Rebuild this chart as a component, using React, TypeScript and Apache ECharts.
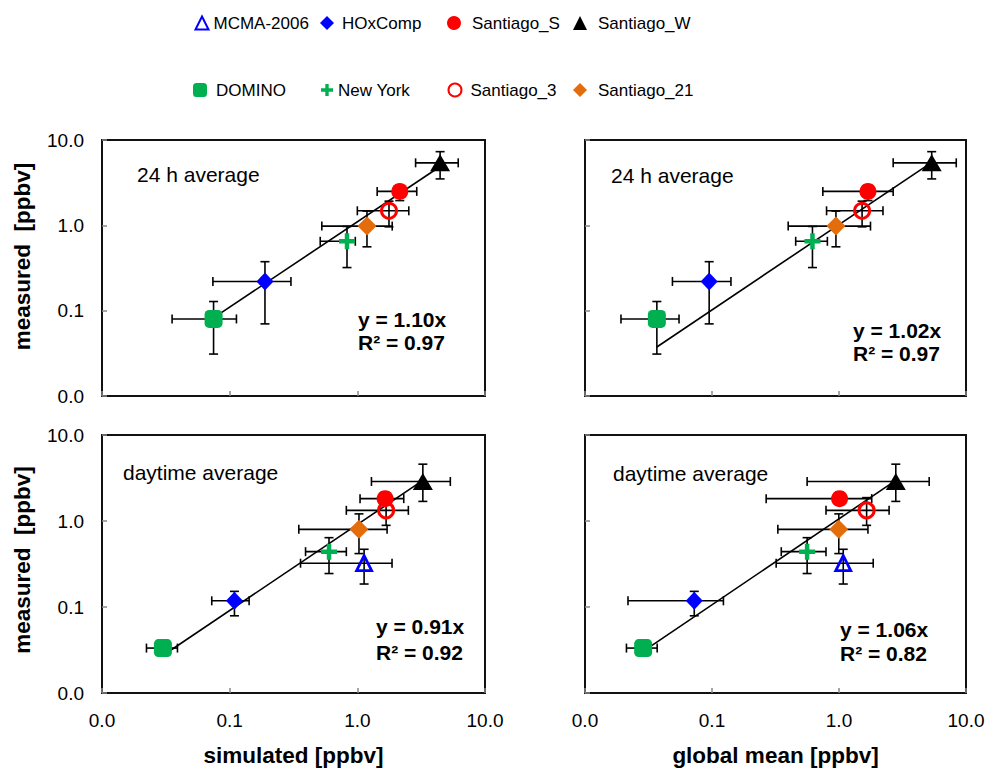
import React, { useEffect, useRef } from "react";
import * as echarts from "echarts";

// Series (legend order)
const seriesNames = ["MCMA-2006", "HOxComp", "Santiago_S", "Santiago_W", "DOMINO", "New York", "Santiago_3", "Santiago_21"];

// 24 h average: measured (y) with error range
const measured24 = [null, 0.22, 2.5, 5.4, 0.08, 0.65, 1.48, 0.98];
const measured24Lo = [null, 0.07, 1.95, 3.5, 0.031, 0.32, 0.96, 0.56];
const measured24Hi = [null, 0.375, 2.94, 7.3, 0.128, 0.97, 1.92, 1.47];
// 24 h average: simulated (x, top-left)
const simulated24 = [null, 0.189, 2.15, 4.45, 0.0748, 0.83, 1.77, 1.19];
const simulated24Lo = [null, 0.0739, 1.43, 2.86, 0.0354, 0.512, 1.0, 0.527];
const simulated24Hi = [null, 0.302, 2.92, 6.17, 0.113, 0.964, 2.53, 1.876];
// 24 h average: global mean (x, top-right)
const global24 = [null, 0.095, 1.69, 5.37, 0.0368, 0.618, 1.52, 0.946];
const global24Lo = [null, 0.0488, 0.746, 2.67, 0.0192, 0.456, 0.798, 0.398];
const global24Hi = [null, 0.141, 2.67, 8.38, 0.055, 0.81, 2.22, 1.77];

// daytime average: measured (y)
const measuredDay = [0.323, 0.118, 1.82, 2.88, 0.0333, 0.44, 1.33, 0.8];
const measuredDayLo = [0.185, 0.079, 1.55, 1.69, 0.031, 0.245, 0.89, 0.418];
const measuredDayHi = [0.469, 0.152, 2.16, 4.58, 0.036, 0.64, 1.87, 1.21];
// daytime average: simulated (x, bottom-left)
const simulatedDay = [1.13, 0.109, 1.65, 3.26, 0.03, 0.6, 1.68, 1.03];
const simulatedDayLo = [0.359, 0.0724, 1.05, 1.29, 0.0223, 0.393, 0.82, 0.348];
const simulatedDayHi = [1.87, 0.142, 2.31, 5.35, 0.039, 0.82, 2.51, 1.71];
// daytime average: global mean (x, bottom-right)
const globalDay = [1.08, 0.0725, 1.01, 2.8, 0.0287, 0.561, 1.65, 0.996];
const globalDayLo = [0.32, 0.0218, 0.267, 0.561, 0.0212, 0.351, 0.79, 0.33];
const globalDayHi = [1.86, 0.123, 1.81, 5.13, 0.037, 0.79, 2.48, 1.69];

// Fit results per panel
const panelTitles = ["24 h average", "24 h average", "daytime average", "daytime average"];
const slopes = [1.1, 1.02, 0.91, 1.06];
const r2 = [0.97, 0.97, 0.92, 0.82];
const xAxisTitles = ["simulated [ppbv]", "global mean [ppbv]"];
const yAxisTitle = "measured  [ppbv]";

const FONT = "'Liberation Sans', Arial, sans-serif";
const CLEAR = "rgba(0,0,0,0)";
const PLUS = "path://M3.6,0H6.4V3.6H10V6.4H6.4V10H3.6V6.4H0V3.6H3.6Z";

const symbolStyles: Record<string, any> = {
  "MCMA-2006": { symbol: "triangle", size: 15, legendSize: 13, itemStyle: { color: CLEAR, borderColor: "#0000FF", borderWidth: 2.8, opacity: 1 } },
  HOxComp: { symbol: "diamond", size: [17, 18], legendSize: 14, itemStyle: { color: "#0000FF", opacity: 1 } },
  Santiago_S: { symbol: "circle", size: 17, legendSize: 14, itemStyle: { color: "#FF0000", opacity: 1 } },
  Santiago_W: { symbol: "triangle", size: [20, 17], legendSize: 14, itemStyle: { color: "#000000", opacity: 1 } },
  DOMINO: { symbol: "roundRect", size: 18, legendSize: 14, itemStyle: { color: "#00B050", opacity: 1 } },
  "New York": { symbol: PLUS, size: 16, legendSize: 12, itemStyle: { color: "#00B050", opacity: 1 } },
  Santiago_3: { symbol: "circle", size: 15, legendSize: 13, itemStyle: { color: CLEAR, borderColor: "#FF0000", borderWidth: 3, opacity: 1 } },
  Santiago_21: { symbol: "diamond", size: 19, legendSize: 14, itemStyle: { color: "#E46C0A", opacity: 1 } },
};

// Legend layout: [iconCenterX, centerY, text offset]
const legendPos: Record<string, number[]> = {
  "MCMA-2006": [201, 23, 0],
  HOxComp: [327, 23, 3],
  Santiago_S: [454, 23, 6],
  Santiago_W: [580, 23, 6],
  DOMINO: [200, 90, 4],
  "New York": [327, 90, 0],
  Santiago_3: [454, 90, 4],
  Santiago_21: [580, 90, 6],
};

const grids = [
  { left: 102, top: 140, width: 383, height: 256 },
  { left: 585, top: 140, width: 381, height: 256 },
  { left: 102, top: 435, width: 383, height: 258 },
  { left: 585, top: 435, width: 381, height: 258 },
];
const yNameShift = [23, 0, 8, 0];

const textPos = [
  { title: [137, 174], eq: [358, 319], r2: [358, 342] },
  { title: [611, 175], eq: [853, 330], r2: [853, 353] },
  { title: [123, 472], eq: [376, 626], r2: [376, 652] },
  { title: [613, 473], eq: [840, 629], r2: [840, 653] },
];

function buildOption() {
  const panels = [
    { x: simulated24, xl: simulated24Lo, xh: simulated24Hi, y: measured24, yl: measured24Lo, yh: measured24Hi },
    { x: global24, xl: global24Lo, xh: global24Hi, y: measured24, yl: measured24Lo, yh: measured24Hi },
    { x: simulatedDay, xl: simulatedDayLo, xh: simulatedDayHi, y: measuredDay, yl: measuredDayLo, yh: measuredDayHi },
    { x: globalDay, xl: globalDayLo, xh: globalDayHi, y: measuredDay, yl: measuredDayLo, yh: measuredDayHi },
  ];

  const series: any[] = [];
  const graphic: any[] = [];

  panels.forEach((p, pi) => {
    const errData: number[][] = [];
    const xs: number[] = [];
    seriesNames.forEach((_, i) => {
      if (p.x[i] == null || p.y[i] == null) return;
      errData.push([p.x[i] as number, p.y[i] as number, p.xl[i] as number, p.xh[i] as number, p.yl[i] as number, p.yh[i] as number]);
      xs.push(p.x[i] as number);
    });
    // error bars
    series.push({
      type: "custom",
      name: "err" + pi,
      xAxisIndex: pi,
      yAxisIndex: pi,
      silent: true,
      z: 2,
      encode: { x: 0, y: 1 },
      data: errData,
      renderItem: (params: any, api: any) => {
        const x = api.value(0), y = api.value(1);
        const pL = api.coord([api.value(2), y]);
        const pR = api.coord([api.value(3), y]);
        const pB = api.coord([x, api.value(4)]);
        const pT = api.coord([x, api.value(5)]);
        const c = 4.5;
        const style = { stroke: "#000", lineWidth: 1.6, fill: null };
        const ln = (x1: number, y1: number, x2: number, y2: number) => ({ type: "line", shape: { x1, y1, x2, y2 }, style });
        return {
          type: "group",
          children: [
            ln(pL[0], pL[1], pR[0], pR[1]),
            ln(pL[0], pL[1] - c, pL[0], pL[1] + c),
            ln(pR[0], pR[1] - c, pR[0], pR[1] + c),
            ln(pB[0], pB[1], pT[0], pT[1]),
            ln(pB[0] - c, pB[1], pB[0] + c, pB[1]),
            ln(pT[0] - c, pT[1], pT[0] + c, pT[1]),
          ],
        };
      },
    });
    // fit line
    const xmin = Math.min(...xs), xmax = Math.max(...xs);
    series.push({
      type: "line",
      name: "fit" + pi,
      xAxisIndex: pi,
      yAxisIndex: pi,
      showSymbol: false,
      silent: true,
      z: 3,
      lineStyle: { color: "#000", width: 1.6 },
      data: [[xmin, slopes[pi] * xmin], [xmax, slopes[pi] * xmax]],
    });
    // markers
    seriesNames.forEach((name, i) => {
      const st = symbolStyles[name];
      series.push({
        type: "scatter",
        name,
        xAxisIndex: pi,
        yAxisIndex: pi,
        symbol: st.symbol,
        symbolSize: st.size,
        itemStyle: st.itemStyle,
        z: 4,
        data: p.x[i] == null || p.y[i] == null ? [] : [[p.x[i], p.y[i]]],
      });
    });

    const tp = textPos[pi];
    graphic.push({
      type: "text",
      x: tp.title[0],
      y: tp.title[1],
      style: { text: panelTitles[pi], fontSize: 21, fontFamily: FONT, fill: "#000", verticalAlign: "middle" },
    });
    graphic.push({
      type: "text",
      x: tp.eq[0],
      y: tp.eq[1],
      style: { text: "y = " + slopes[pi].toFixed(2) + "x", fontSize: 21, fontWeight: "bold", fontFamily: FONT, fill: "#000", verticalAlign: "middle" },
    });
    graphic.push({
      type: "text",
      x: tp.r2[0],
      y: tp.r2[1],
      style: { text: "R² = " + r2[pi].toFixed(2), fontSize: 21, fontWeight: "bold", fontFamily: FONT, fill: "#000", verticalAlign: "middle" },
    });
  });

  const legend = seriesNames.map((name) => {
    const [cx, cy, off] = legendPos[name];
    const s = symbolStyles[name].legendSize;
    return {
      data: [name],
      left: cx - s / 2,
      top: cy - 10,
      padding: 0,
      itemWidth: s,
      itemHeight: s,
      itemGap: 0,
      selectedMode: false,
      itemStyle: { opacity: 1 },
      textStyle: { fontSize: 17, fontFamily: FONT, color: "#000", padding: [0, 0, 0, off], lineHeight: 20 },
    };
  });

  const xAxis = grids.map((_, gi) => ({
    type: "log",
    logBase: 10,
    min: 0.01,
    max: 10,
    gridIndex: gi,
    axisLine: { show: false },
    axisTick: { show: true, inside: true, length: 5, lineStyle: { color: "#888", width: 1.5 } },
    splitLine: { show: false },
    minorTick: { show: false },
    axisLabel: {
      show: gi >= 2,
      formatter: (v: number) => v.toFixed(1),
      fontSize: 19,
      fontFamily: FONT,
      color: "#000",
      margin: 18,
    },
    name: gi >= 2 ? xAxisTitles[gi - 2] : "",
    nameLocation: "middle",
    nameGap: 51,
    nameTextStyle: { fontSize: 22.5, fontWeight: "bold", fontFamily: FONT, color: "#000" },
  }));

  const yAxis = grids.map((_, gi) => ({
    type: "log",
    logBase: 10,
    min: 0.01,
    max: 10,
    gridIndex: gi,
    axisLine: { show: false },
    axisTick: { show: true, inside: true, length: 5, lineStyle: { color: "#888", width: 1.5 } },
    splitLine: { show: false },
    minorTick: { show: false },
    axisLabel: {
      show: gi % 2 === 0,
      formatter: (v: number) => v.toFixed(1),
      fontSize: 19,
      fontFamily: FONT,
      color: "#000",
      margin: 18,
    },
    name: gi % 2 === 0 ? yAxisTitle : "",
    nameLocation: "middle",
    nameGap: 68,
    nameTextStyle: { fontSize: 22.5, fontWeight: "bold", fontFamily: FONT, color: "#000", padding: [0, 0, 0, yNameShift[gi]] },
  }));

  return {
    animation: false,
    backgroundColor: "#fff",
    textStyle: { fontFamily: FONT },
    grid: grids.map((g) => ({ ...g, show: true, borderColor: "#111", borderWidth: 2, backgroundColor: CLEAR })),
    legend,
    xAxis,
    yAxis,
    series,
    graphic,
  };
}

export default function App() {
  const ref = useRef<HTMLDivElement>(null);
  useEffect(() => {
    if (!ref.current) return;
    const chart = echarts.init(ref.current, null, { renderer: "svg" });
    chart.setOption(buildOption() as any);
    return () => chart.dispose();
  }, []);
  return <div ref={ref} style={{ position: "absolute", left: 0, top: 0, width: 992, height: 770 }} />;
}
